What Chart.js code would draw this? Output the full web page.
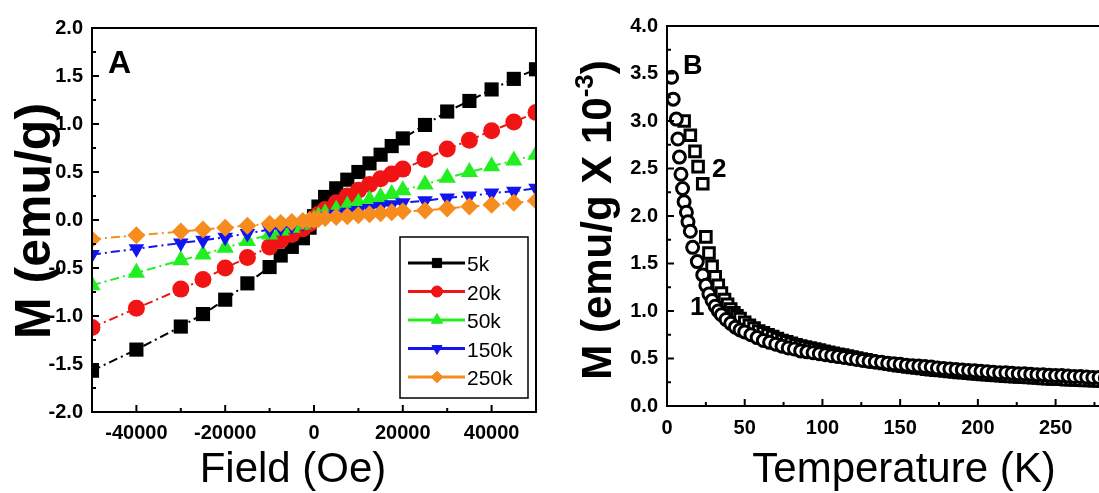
<!DOCTYPE html>
<html>
<head>
<meta charset="utf-8">
<script src="https://cdn.jsdelivr.net/npm/chart.js@4.4.1/dist/chart.umd.min.js"></script>
<style>
html, body { margin: 0; padding: 0; overflow: hidden; background: #fff; }
#wrap { position: relative; width: 1099px; height: 493px; overflow: hidden; }
#chartA { position: absolute; left: 0; top: 0; }
#chartB { position: absolute; left: 560px; top: 0; }
</style>
</head>
<body>
<div id="wrap">
    <canvas id="chartA" width="560" height="493"></canvas>
    <canvas id="chartB" width="600" height="493"></canvas>
</div>
<script>
// ---- panel A : M vs field ----
let fieldOe = [-50000, -40000, -30000, -25000, -20000, -15000, -10000, -7500, -5000, -2500, -1000, 0, 1000, 2500, 5000, 7500, 10000, 12500, 15000, 17500, 20000, 25000, 30000, 35000, 40000, 45000, 50000];
let m5k   = [-1.57, -1.35, -1.11, -0.98, -0.83, -0.66, -0.49, -0.37, -0.28, -0.19, -0.08, 0.04, 0.14, 0.24, 0.33, 0.42, 0.50, 0.59, 0.68, 0.77, 0.85, 0.99, 1.13, 1.24, 1.36, 1.47, 1.57];
let m20k  = [-1.12, -0.92, -0.72, -0.62, -0.50, -0.39, -0.28, -0.21, -0.15, -0.09, -0.04, 0.01, 0.06, 0.11, 0.18, 0.25, 0.31, 0.37, 0.43, 0.48, 0.53, 0.63, 0.74, 0.83, 0.93, 1.02, 1.12];
let m50k  = [-0.68, -0.55, -0.42, -0.36, -0.29, -0.22, -0.15, -0.11, -0.08, -0.05, -0.02, 0.01, 0.04, 0.07, 0.11, 0.15, 0.18, 0.21, 0.24, 0.27, 0.31, 0.37, 0.44, 0.50, 0.56, 0.62, 0.68];
let m150k = [-0.36, -0.30, -0.24, -0.21, -0.18, -0.14, -0.10, -0.08, -0.06, -0.03, -0.01, 0.00, 0.02, 0.04, 0.06, 0.08, 0.10, 0.12, 0.14, 0.16, 0.18, 0.20, 0.23, 0.25, 0.28, 0.30, 0.33];
let m250k = [-0.20, -0.16, -0.12, -0.10, -0.08, -0.06, -0.04, -0.03, -0.02, -0.01, 0.00, 0.00, 0.01, 0.02, 0.03, 0.04, 0.05, 0.06, 0.07, 0.08, 0.09, 0.10, 0.12, 0.14, 0.16, 0.18, 0.20];
let seriesNames = ["5k", "20k", "50k", "150k", "250k"];
let fieldTicks = [-40000, -20000, 0, 20000, 40000];
let fieldMinor = [-30000, -10000, 10000, 30000];
let mTicksA = [-2.0, -1.5, -1.0, -0.5, 0.0, 0.5, 1.0, 1.5, 2.0];
let mMinorA = [-1.75, -1.25, -0.75, -0.25, 0.25, 0.75, 1.25, 1.75];

// ---- panel B : M vs temperature ----
let tempCircles = [3, 4, 6, 7, 8, 9, 10, 11, 12.5, 13.5, 15, 16.5, 19.5, 23, 25, 27, 29, 31, 33, 35, 38, 41, 44, 47, 50, 54, 58, 62, 66, 70, 74, 78, 82, 86, 90, 94, 98, 102, 106, 110, 114, 118, 122, 126, 130, 134, 138, 142, 146, 150, 154, 158, 162, 166, 170, 174, 178, 182, 186, 190, 194, 198, 202, 206, 210, 214, 218, 222, 226, 230, 234, 238, 242, 246, 250, 254, 258, 262, 266, 270, 274, 278, 282, 286, 290, 294, 298];
let mCircles = [3.46, 3.23, 3.02, 2.81, 2.62, 2.44, 2.29, 2.15, 2.04, 1.94, 1.84, 1.67, 1.52, 1.38, 1.27, 1.18, 1.11, 1.05, 1.00, 0.96, 0.91, 0.87, 0.83, 0.80, 0.78, 0.75, 0.72, 0.69, 0.67, 0.65, 0.63, 0.61, 0.60, 0.58, 0.57, 0.56, 0.55, 0.54, 0.53, 0.52, 0.51, 0.50, 0.49, 0.48, 0.47, 0.465, 0.46, 0.45, 0.445, 0.44, 0.43, 0.425, 0.42, 0.415, 0.41, 0.40, 0.395, 0.39, 0.385, 0.38, 0.375, 0.37, 0.365, 0.36, 0.355, 0.35, 0.35, 0.345, 0.34, 0.34, 0.335, 0.33, 0.33, 0.325, 0.32, 0.32, 0.315, 0.31, 0.31, 0.305, 0.30, 0.30, 0.295, 0.29, 0.29, 0.285, 0.28];
let tempSquares = [11, 15, 18, 20, 23, 25, 27, 29, 31, 33, 35, 37, 39, 41, 43, 45, 47, 50, 53, 56, 59, 62, 65, 68, 71, 74, 77, 80, 83, 86, 89, 92, 95, 98, 101, 104, 107, 110, 113, 116, 119, 122, 125, 128, 131, 134, 137, 140, 143, 146, 149, 152, 155, 158, 161, 164, 167, 170, 173, 176, 179, 182, 185, 188, 191, 194, 197, 200, 203, 206, 209, 212, 215, 218, 221, 224, 227, 230, 233, 236, 239, 242, 245, 248, 251, 254, 257, 260, 263, 266, 269, 272, 275, 278, 281, 284, 287, 290, 293, 296, 299];
let mSquares = [3.00, 2.85, 2.68, 2.52, 2.34, 1.78, 1.61, 1.47, 1.36, 1.27, 1.19, 1.12, 1.07, 1.02, 0.98, 0.95, 0.92, 0.88, 0.85, 0.82, 0.79, 0.77, 0.75, 0.73, 0.71, 0.69, 0.675, 0.66, 0.645, 0.63, 0.62, 0.61, 0.60, 0.59, 0.575, 0.565, 0.555, 0.545, 0.535, 0.525, 0.515, 0.505, 0.495, 0.485, 0.475, 0.465, 0.455, 0.447, 0.44, 0.432, 0.425, 0.418, 0.412, 0.405, 0.40, 0.394, 0.388, 0.383, 0.378, 0.373, 0.368, 0.363, 0.358, 0.354, 0.35, 0.345, 0.341, 0.337, 0.333, 0.329, 0.325, 0.322, 0.318, 0.315, 0.312, 0.309, 0.306, 0.303, 0.30, 0.297, 0.294, 0.291, 0.288, 0.286, 0.283, 0.281, 0.278, 0.276, 0.274, 0.272, 0.27, 0.268, 0.266, 0.264, 0.262, 0.26, 0.258, 0.256, 0.254, 0.252, 0.25];
let tempTicks = [0, 50, 100, 150, 200, 250, 300];
let tempMinor = [25, 75, 125, 175, 225, 275];
let mTicksB = [0.0, 0.5, 1.0, 1.5, 2.0, 2.5, 3.0, 3.5, 4.0];
let mMinorB = [0.25, 0.75, 1.25, 1.75, 2.25, 2.75, 3.25, 3.75];

let FONT = '"Liberation Sans", Arial, sans-serif';

// marker / colour styles for the five loops
let styleA = [
    { color: "#000000", marker: "rect", rot: 0, r: 10 },
    { color: "#f01414", marker: "circle", rot: 0, r: 8.5 },
    { color: "#22ee22", marker: "triangle", rot: 0, r: 10 },
    { color: "#1414f0", marker: "triangle", rot: 180, r: 9 },
    { color: "#f68c1e", marker: "rectRot", rot: 0, r: 9 }
];

function toPoints(xs, ys) {
    return xs.map(function (x, i) { return { x: x, y: ys[i] }; });
}

function tickFont() {
    return { family: FONT, size: 20, weight: "bold" };
}

// frame with inward ticks, drawn from the chart's own scales
function drawFrame(chart, xMinor, yMinor) {
    let ctx = chart.ctx;
    let a = chart.chartArea;
    let xs = chart.scales.x;
    let ys = chart.scales.y;
    ctx.save();
    ctx.strokeStyle = "#000";
    ctx.lineWidth = 2;
    ctx.strokeRect(a.left, a.top, a.right - a.left, a.bottom - a.top);
    ctx.beginPath();
    xs.ticks.forEach(function (t) {
        let px = xs.getPixelForValue(t.value);
        ctx.moveTo(px, a.bottom); ctx.lineTo(px, a.bottom - 7);
    });
    xMinor.forEach(function (v) {
        let px = xs.getPixelForValue(v);
        ctx.moveTo(px, a.bottom); ctx.lineTo(px, a.bottom - 4);
    });
    ys.ticks.forEach(function (t) {
        let py = ys.getPixelForValue(t.value);
        ctx.moveTo(a.left, py); ctx.lineTo(a.left + 7, py);
    });
    yMinor.forEach(function (v) {
        let py = ys.getPixelForValue(v);
        ctx.moveTo(a.left, py); ctx.lineTo(a.left + 4, py);
    });
    ctx.stroke();
    ctx.restore();
}

function drawText(ctx, text, x, y, font, align) {
    ctx.save();
    ctx.font = font;
    ctx.fillStyle = "#000";
    ctx.textAlign = align || "left";
    ctx.textBaseline = "alphabetic";
    ctx.fillText(text, x, y);
    ctx.restore();
}

function drawVertical(ctx, text, cx, cy, font, base) {
    ctx.save();
    ctx.translate(cx, cy);
    ctx.rotate(-Math.PI / 2);
    ctx.font = font;
    ctx.fillStyle = "#000";
    ctx.textAlign = "center";
    ctx.textBaseline = "alphabetic";
    ctx.fillText(text, 0, base);
    ctx.restore();
}

let decorA = {
    id: "decorA",
    afterDraw: function (chart) {
        let ctx = chart.ctx;
        drawFrame(chart, fieldMinor, mMinorA);
        drawVertical(ctx, "M (emu/g)", 32, 221, "bold 50px " + FONT, 18);
        drawText(ctx, "Field (Oe)", 293, 482, "42px " + FONT, "center");
        drawText(ctx, "A", 108, 73, "bold 32px " + FONT);

        // legend box inside the plot
        ctx.save();
        ctx.fillStyle = "#fff";
        ctx.fillRect(400, 237, 128, 161);
        ctx.strokeStyle = "#000";
        ctx.lineWidth = 1.5;
        ctx.strokeRect(400, 237, 128, 161);
        let drawPoint = Chart.helpers.drawPoint;
        chart.data.datasets.forEach(function (ds, i) {
            let y = 263 + i * 28.5;
            let st = styleA[i];
            ctx.strokeStyle = st.color;
            ctx.lineWidth = 3;
            ctx.beginPath();
            ctx.moveTo(408, y); ctx.lineTo(465, y);
            ctx.stroke();
            ctx.fillStyle = st.color;
            ctx.strokeStyle = st.color;
            ctx.lineWidth = 1;
            drawPoint(ctx, { pointStyle: st.marker, rotation: st.rot, radius: st.r * 0.65, borderWidth: 1 }, 437, y);
            drawText(ctx, ds.label, 467, y + 8, "21px " + FONT);
        });
        ctx.restore();
    }
};

let decorB = {
    id: "decorB",
    afterDraw: function (chart) {
        let ctx = chart.ctx;
        drawFrame(chart, tempMinor, mMinorB);
        drawText(ctx, "Temperature (K)", 344, 482, "42px " + FONT, "center");
        drawText(ctx, "B", 123, 74, "bold 27px " + FONT);
        drawText(ctx, "2", 152, 177, "bold 26px " + FONT);
        drawText(ctx, "1", 130, 315, "bold 26px " + FONT);

        // y title with superscript exponent
        ctx.save();
        ctx.translate(36, 220);
        ctx.rotate(-Math.PI / 2);
        ctx.fillStyle = "#000";
        ctx.textAlign = "left";
        ctx.textBaseline = "alphabetic";
        let big = "bold 42px " + FONT;
        let small = "bold 26px " + FONT;
        ctx.font = big;
        let w1 = ctx.measureText("M (emu/g X 10").width;
        let w3 = ctx.measureText(")").width;
        ctx.font = small;
        let w2 = ctx.measureText("-3").width;
        let x0 = -(w1 + w2 + w3) / 2;
        ctx.font = big;
        ctx.fillText("M (emu/g X 10", x0, 15);
        ctx.fillText(")", x0 + w1 + w2, 15);
        ctx.font = small;
        ctx.fillText("-3", x0 + w1, -3);
        ctx.restore();
    }
};

let datasetsA = [m5k, m20k, m50k, m150k, m250k].map(function (vals, i) {
    let st = styleA[i];
    return {
        label: seriesNames[i],
        data: toPoints(fieldOe, vals),
        showLine: true,
        borderColor: st.color,
        backgroundColor: st.color,
        borderWidth: 2,
        borderDash: [9, 4, 2, 4],
        pointStyle: st.marker,
        rotation: st.rot,
        pointRadius: st.r,
        pointBorderWidth: 0,
        pointBackgroundColor: st.color,
        order: 4 - i,
        clip: 0
    };
});

new Chart(document.getElementById("chartA").getContext("2d"), {
    type: "scatter",
    data: { datasets: datasetsA },
    options: {
        responsive: false,
        animation: false,
        events: [],
        layout: { padding: { top: 28, right: 24, left: 0, bottom: 0 } },
        plugins: { legend: { display: false }, tooltip: { enabled: false } },
        scales: {
            x: {
                type: "linear", min: -50000, max: 50000,
                grid: { display: false, drawTicks: false },
                border: { display: false },
                afterBuildTicks: function (s) { s.ticks = fieldTicks.map(function (v) { return { value: v }; }); },
                afterFit: function (s) { s.height = 81; },
                ticks: { color: "#000", font: tickFont(), padding: 9, maxRotation: 0, autoSkip: false,
                    callback: function (v) { return String(v); } }
            },
            y: {
                type: "linear", min: -2, max: 2,
                grid: { display: false, drawTicks: false },
                border: { display: false },
                afterBuildTicks: function (s) { s.ticks = mTicksA.map(function (v) { return { value: v }; }); },
                afterFit: function (s) { s.width = 92; },
                ticks: { color: "#000", font: tickFont(), padding: 9, autoSkip: false,
                    callback: function (v) { return Number(v).toFixed(1); } }
            }
        }
    },
    plugins: [decorA]
});

new Chart(document.getElementById("chartB").getContext("2d"), {
    type: "scatter",
    data: {
        datasets: [
            {
                label: "1",
                data: toPoints(tempCircles, mCircles),
                pointStyle: "circle",
                pointRadius: 6,
                pointBorderWidth: 3,
                pointBorderColor: "#000",
                pointBackgroundColor: "#fff",
                order: 0,
                clip: 0
            },
            {
                label: "2",
                data: toPoints(tempSquares, mSquares),
                pointStyle: "rect",
                pointRadius: 7.5,
                pointBorderWidth: 3,
                pointBorderColor: "#000",
                pointBackgroundColor: "#fff",
                order: 1,
                clip: 0
            }
        ]
    },
    options: {
        responsive: false,
        animation: false,
        events: [],
        layout: { padding: { top: 26, right: 19, left: 0, bottom: 0 } },
        plugins: { legend: { display: false }, tooltip: { enabled: false } },
        scales: {
            x: {
                type: "linear", min: 0, max: 300,
                grid: { display: false, drawTicks: false },
                border: { display: false },
                afterBuildTicks: function (s) { s.ticks = tempTicks.map(function (v) { return { value: v }; }); },
                afterFit: function (s) { s.height = 87; },
                ticks: { color: "#000", font: tickFont(), padding: 10, maxRotation: 0, autoSkip: false,
                    callback: function (v) { return String(v); } }
            },
            y: {
                type: "linear", min: 0, max: 4,
                grid: { display: false, drawTicks: false },
                border: { display: false },
                afterBuildTicks: function (s) { s.ticks = mTicksB.map(function (v) { return { value: v }; }); },
                afterFit: function (s) { s.width = 107; },
                ticks: { color: "#000", font: tickFont(), padding: 9, autoSkip: false,
                    callback: function (v) { return Number(v).toFixed(1); } }
            }
        }
    },
    plugins: [decorB]
});
</script>
</body>
</html>
